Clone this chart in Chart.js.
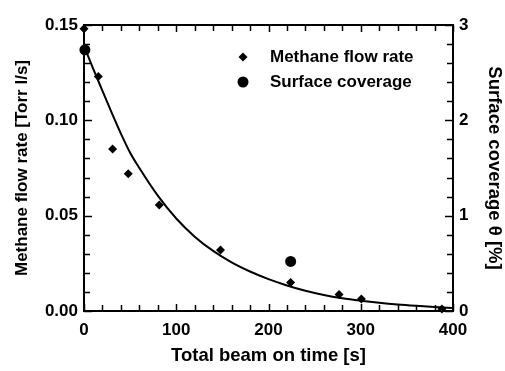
<!DOCTYPE html>
<html>
<head>
<meta charset="utf-8">
<script src="https://cdn.jsdelivr.net/npm/chart.js@4.4.1/dist/chart.umd.min.js"></script>
<style>
  html, body { margin: 0; padding: 0; background: #fff; }
  #wrap { width: 505px; height: 371px; position: relative; }
</style>
</head>
<body>
<div id="wrap"><canvas id="chart"></canvas></div>
<script>
// methane flow rate (left axis) vs total beam on time
const methaneTime = [0, 15.5, 31, 48, 81.6, 148, 224, 276.5, 300.7, 388];
const methaneFlow = [0.148, 0.123, 0.085, 0.072, 0.0556, 0.032, 0.015, 0.0086, 0.0063, 0.001];

// surface coverage (right axis, %)
const coverageTime = [1, 224];
const coverageValue = [2.74, 0.52];

// fitted decay curve
const fitTime = [0, 10, 20, 30, 40, 50, 60, 80, 100, 120, 140, 160, 180, 200, 220, 240, 260, 280, 300, 320, 340, 360, 380, 400];
const fitFlow = [0.139, 0.127, 0.1155, 0.104, 0.093, 0.083, 0.075, 0.0605, 0.0485, 0.039, 0.0315, 0.0255, 0.0207, 0.0167, 0.0134, 0.0106, 0.0084, 0.0067, 0.0054, 0.0043, 0.0034, 0.0027, 0.0021, 0.0016];

const xTicks = [0, 100, 200, 300, 400];
const leftTicks = [0, 0.05, 0.10, 0.15];
const rightTicks = [0, 1, 2, 3];

const FONT = '"Liberation Sans", Arial, sans-serif';
const tickFont = { family: FONT, size: 17, weight: 'bold' };
const leftTitleFont = { family: FONT, size: 17, weight: 'bold' };
const titleFont = { family: FONT, size: 18.5, weight: 'bold' };

const toXY = (xs, ys) => xs.map((x, i) => ({ x: x, y: ys[i] }));

// frame, inward ticks and legend drawn with the scales' own pixel mapping
const framePlugin = {
    id: 'frame',
    afterDatasetsDraw(chart) {
        const ctx = chart.ctx;
        const a = chart.chartArea;
        const sx = chart.scales.x, sy = chart.scales.y;
        ctx.save();
        ctx.strokeStyle = '#000';
        ctx.lineWidth = 2;
        ctx.strokeRect(a.left, a.top, a.right - a.left, a.bottom - a.top);
        ctx.lineWidth = 1.5;
        ctx.beginPath();
        for (let v = 0; v <= 400; v += 20) {
            const px = Math.round(sx.getPixelForValue(v)) + 0.5;
            const len = v % 100 === 0 ? 7 : 6;
            ctx.moveTo(px, a.bottom); ctx.lineTo(px, a.bottom - len);
            ctx.moveTo(px, a.top); ctx.lineTo(px, a.top + len);
        }
        for (let i = 0; i <= 15; i++) {
            const py = Math.round(sy.getPixelForValue(i / 100)) + 0.5;
            const len = i % 5 === 0 ? 8 : 6;
            ctx.moveTo(a.left, py); ctx.lineTo(a.left + len, py);
            ctx.moveTo(a.right, py); ctx.lineTo(a.right - len, py);
        }
        ctx.stroke();

        // legend
        ctx.fillStyle = '#000';
        ctx.font = 'bold 17px ' + FONT;
        ctx.textBaseline = 'middle';
        const lx = 243;
        ctx.beginPath();
        ctx.moveTo(lx, 57 - 4.5); ctx.lineTo(lx + 4.5, 57); ctx.lineTo(lx, 57 + 4.5); ctx.lineTo(lx - 4.5, 57);
        ctx.closePath(); ctx.fill();
        ctx.beginPath(); ctx.arc(lx, 82, 5.5, 0, Math.PI * 2); ctx.fill();
        ctx.fillText('Methane flow rate', 270, 57);
        ctx.fillText('Surface coverage', 270, 82);
        ctx.restore();
    }
};

new Chart(document.getElementById('chart'), {
    type: 'scatter',
    data: {
        datasets: [
            {
                label: 'Fit',
                type: 'line',
                data: toXY(fitTime, fitFlow),
                yAxisID: 'y',
                borderColor: '#000',
                borderWidth: 2,
                pointRadius: 0,
                cubicInterpolationMode: 'monotone',
                fill: false,
                clip: false
            },
            {
                label: 'Methane flow rate',
                data: toXY(methaneTime, methaneFlow),
                yAxisID: 'y',
                pointStyle: 'rectRot',
                pointRadius: 4.5,
                backgroundColor: '#000',
                borderColor: '#000',
                borderWidth: 0,
                clip: false
            },
            {
                label: 'Surface coverage',
                data: toXY(coverageTime, coverageValue),
                yAxisID: 'y2',
                pointStyle: 'circle',
                pointRadius: 5.5,
                backgroundColor: '#000',
                borderColor: '#000',
                borderWidth: 0,
                clip: false
            }
        ]
    },
    options: {
        responsive: true,
        maintainAspectRatio: false,
        animation: false,
        layout: { padding: { top: 25, left: 12, right: 0, bottom: 0 } },
        plugins: { legend: { display: false }, tooltip: { enabled: false } },
        scales: {
            x: {
                type: 'linear', min: 0, max: 400,
                grid: { display: false, drawTicks: false },
                border: { display: false },
                afterBuildTicks: s => { s.ticks = xTicks.map(v => ({ value: v })); },
                ticks: { color: '#000', font: tickFont, padding: 9, maxRotation: 0 },
                title: { display: true, text: 'Total beam on time [s]', color: '#000', font: titleFont, padding: { top: 0 } },
                afterFit: s => { s.height = 60; }
            },
            y: {
                type: 'linear', position: 'left', min: 0, max: 0.15,
                grid: { display: false, drawTicks: false },
                border: { display: false },
                afterBuildTicks: s => { s.ticks = leftTicks.map(v => ({ value: v })); },
                ticks: { color: '#000', font: tickFont, padding: 6, callback: v => v.toFixed(2) },
                title: { display: true, text: 'Methane flow rate [Torr l/s]', color: '#000', font: leftTitleFont, padding: 0 },
                afterFit: s => { s.width = 72; }
            },
            y2: {
                type: 'linear', position: 'right', min: 0, max: 3,
                grid: { display: false, drawTicks: false },
                border: { display: false },
                afterBuildTicks: s => { s.ticks = rightTicks.map(v => ({ value: v })); },
                ticks: { color: '#000', font: tickFont, padding: 6 },
                title: { display: true, text: 'Surface coverage \u03b8 [%]', color: '#000', font: titleFont, padding: 0 },
                afterFit: s => { s.width = 52; }
            }
        }
    },
    plugins: [framePlugin]
});
</script>
</body>
</html>
